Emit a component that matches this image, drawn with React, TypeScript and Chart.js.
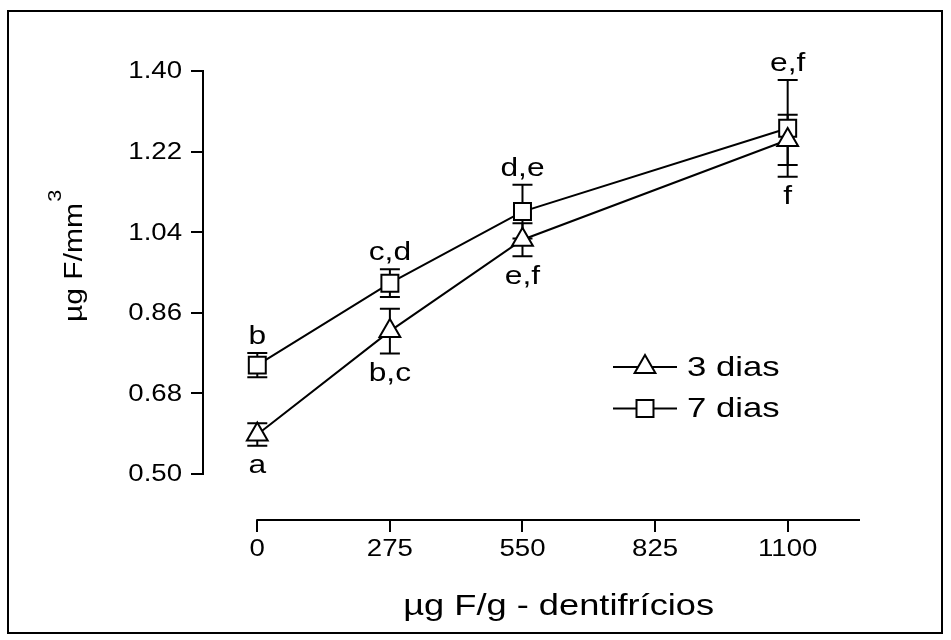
import React, { useEffect, useRef } from 'react';
import { Chart, registerables } from 'chart.js';

Chart.register(...registerables);

// ---------- data ----------
const X_VALUES = [0, 275, 550, 1100];
const DIAS3 = [0.588, 0.819, 1.023, 1.246];
const DIAS3_ERR = [0.025, 0.05, 0.037, 0.056];
const DIAS7 = [0.743, 0.926, 1.086, 1.272];
const DIAS7_ERR = [0.027, 0.031, 0.06, 0.108];
const DIAS3_LETTERS = ['a', 'b,c', 'e,f', 'f'];
const DIAS7_LETTERS = ['b', 'c,d', 'd,e', 'e,f'];
const SERIES_LABELS = ['3 dias', '7 dias'];
const Y_TICKS = [0.5, 0.68, 0.86, 1.04, 1.22, 1.4];
const X_TICKS = [0, 275, 550, 825, 1100];
const X_MAX = 1250;
const X_TITLE = 'µg F/g - dentifrícios';
const Y_TITLE = 'µg F/mm';
const Y_TITLE_SUP = '3';

// ---------- style ----------
const FONT = "'Liberation Sans', Arial, Helvetica, sans-serif";
const R = 12;

function drawText(
  ctx: CanvasRenderingContext2D,
  text: string,
  x: number,
  y: number,
  size: number,
  kx: number,
  align: CanvasTextAlign,
  baseline: CanvasTextBaseline
) {
  ctx.save();
  ctx.translate(x, y);
  ctx.scale(kx, 1);
  ctx.font = `${size}px ${FONT}`;
  ctx.textAlign = align;
  ctx.textBaseline = baseline;
  ctx.fillStyle = '#000';
  ctx.fillText(text, 0, 0);
  ctx.restore();
}

function drawMarker(ctx: CanvasRenderingContext2D, style: string, x: number, y: number, r: number) {
  ctx.beginPath();
  if (style === 'triangle') {
    const a = (2 * Math.PI) / 3;
    ctx.moveTo(x, y - r);
    ctx.lineTo(x + Math.sin(a) * r, y - Math.cos(a) * r);
    ctx.lineTo(x + Math.sin(2 * a) * r, y - Math.cos(2 * a) * r);
    ctx.closePath();
  } else {
    const s = r * Math.SQRT1_2;
    ctx.rect(x - s, y - s, 2 * s, 2 * s);
  }
  ctx.fillStyle = '#fff';
  ctx.fill();
  ctx.stroke();
}

export default function App() {
  const ref = useRef<HTMLCanvasElement>(null);

  useEffect(() => {
    const canvas = ref.current!;
    const series = [
      { vals: DIAS3, errs: DIAS3_ERR, style: 'triangle' },
      { vals: DIAS7, errs: DIAS7_ERR, style: 'rect' },
    ];

    const decor = {
      id: 'decor',
      beforeDatasetsDraw(c: any) {
        const ctx = c.ctx as CanvasRenderingContext2D;
        const xs = c.scales.x;
        const ys = c.scales.y;
        ctx.save();
        ctx.strokeStyle = '#000';
        ctx.lineWidth = 2;
        series.forEach((s) => {
          X_VALUES.forEach((xv, i) => {
            const px = xs.getPixelForValue(xv);
            const top = ys.getPixelForValue(s.vals[i] + s.errs[i]);
            const bot = ys.getPixelForValue(s.vals[i] - s.errs[i]);
            ctx.beginPath();
            ctx.moveTo(px, top);
            ctx.lineTo(px, bot);
            ctx.moveTo(px - 10, top);
            ctx.lineTo(px + 10, top);
            ctx.moveTo(px - 10, bot);
            ctx.lineTo(px + 10, bot);
            ctx.stroke();
          });
        });
        ctx.restore();
      },
      afterDraw(c: any) {
        const ctx = c.ctx as CanvasRenderingContext2D;
        const xs = c.scales.x;
        const ys = c.scales.y;
        const area = c.chartArea;
        ctx.save();
        ctx.strokeStyle = '#000';
        ctx.fillStyle = '#000';
        ctx.lineWidth = 2;

        // outer frame
        ctx.strokeRect(8, 11, 934, 622);

        // axis lines (offset style)
        ctx.beginPath();
        ctx.moveTo(area.left, ys.getPixelForValue(Y_TICKS[0]) + 1);
        ctx.lineTo(area.left, ys.getPixelForValue(Y_TICKS[Y_TICKS.length - 1]) - 1);
        ctx.moveTo(xs.getPixelForValue(X_TICKS[0]) - 1, area.bottom);
        ctx.lineTo(xs.getPixelForValue(X_MAX), area.bottom);
        ctx.stroke();

        // tick labels
        ys.ticks.forEach((t: any) => {
          drawText(ctx, Number(t.value).toFixed(2), area.left - 21, ys.getPixelForValue(t.value) + 1, 23, 1.2, 'right', 'middle');
        });
        xs.ticks.forEach((t: any) => {
          drawText(ctx, String(t.value), xs.getPixelForValue(t.value), area.bottom + 30, 23, 1.2, 'center', 'middle');
        });

        // significance letters
        X_VALUES.forEach((xv, i) => {
          const px = xs.getPixelForValue(xv);
          const topEnd = Math.min(
            ys.getPixelForValue(DIAS3[i] + DIAS3_ERR[i]),
            ys.getPixelForValue(DIAS7[i] + DIAS7_ERR[i])
          );
          const botEnd = Math.max(
            ys.getPixelForValue(DIAS3[i] - DIAS3_ERR[i]),
            ys.getPixelForValue(DIAS7[i] - DIAS7_ERR[i])
          );
          drawText(ctx, DIAS7_LETTERS[i], px, topEnd - 9, 26, 1.22, 'center', 'alphabetic');
          drawText(ctx, DIAS3_LETTERS[i], px, botEnd + 7, 26, 1.22, 'center', 'top');
        });

        // legend
        series.forEach((s, i) => {
          const ly = 367 + i * 41.6;
          ctx.strokeStyle = '#000';
          ctx.lineWidth = 2;
          ctx.beginPath();
          ctx.moveTo(613, ly);
          ctx.lineTo(677, ly);
          ctx.stroke();
          drawMarker(ctx, s.style, 645, ly, R);
          drawText(ctx, SERIES_LABELS[i], 687, ly + 1, 28, 1.24, 'left', 'middle');
        });

        // x title
        drawText(
          ctx,
          X_TITLE,
          (xs.getPixelForValue(X_TICKS[0]) + xs.getPixelForValue(X_MAX)) / 2,
          615,
          29,
          1.25,
          'center',
          'alphabetic'
        );

        // y title (rotated)
        ctx.save();
        ctx.translate(82, 322);
        ctx.rotate(-Math.PI / 2);
        ctx.scale(1.2, 1);
        ctx.font = `25px ${FONT}`;
        ctx.textAlign = 'left';
        ctx.textBaseline = 'alphabetic';
        ctx.fillStyle = '#000';
        ctx.fillText(Y_TITLE, 0, 0);
        const w = ctx.measureText(Y_TITLE).width;
        ctx.font = `18px ${FONT}`;
        ctx.fillText(Y_TITLE_SUP, w + 1, -21);
        ctx.restore();

        ctx.restore();
      },
    };

    const chart = new Chart(canvas, {
      type: 'scatter',
      data: {
        datasets: series.map((s, i) => ({
          label: SERIES_LABELS[i],
          data: X_VALUES.map((x, j) => ({ x, y: s.vals[j] })),
          showLine: true,
          borderColor: '#000',
          borderWidth: 2,
          pointStyle: s.style as any,
          pointRadius: R,
          pointHoverRadius: R,
          pointBackgroundColor: '#fff',
          pointBorderColor: '#000',
          pointBorderWidth: 2,
          clip: false as any,
        })),
      },
      options: {
        responsive: false,
        animation: false,
        events: [],
        layout: { padding: { top: 71, left: 0, right: 91, bottom: 0 } },
        plugins: {
          legend: { display: false },
          tooltip: { enabled: false },
          title: { display: false },
        },
        scales: {
          x: {
            type: 'linear',
            min: -112.6,
            max: X_MAX,
            afterBuildTicks: (scale: any) => {
              scale.ticks = X_TICKS.map((v) => ({ value: v }));
            },
            afterFit: (scale: any) => {
              scale.height = 120;
            },
            border: { display: false },
            grid: {
              drawOnChartArea: false,
              drawTicks: true,
              tickLength: 12,
              lineWidth: 2,
              color: '#000',
            },
            ticks: { display: false, autoSkip: false },
          },
          y: {
            type: 'linear',
            min: 0.397,
            max: 1.4,
            afterBuildTicks: (scale: any) => {
              scale.ticks = Y_TICKS.map((v) => ({ value: v }));
            },
            afterFit: (scale: any) => {
              scale.width = 203;
            },
            border: { display: false },
            grid: {
              drawOnChartArea: false,
              drawTicks: true,
              tickLength: 12,
              lineWidth: 2,
              color: '#000',
            },
            ticks: { display: false, autoSkip: false },
          },
        },
      },
      plugins: [decor],
    });

    return () => chart.destroy();
  }, []);

  return (
    <div style={{ position: 'fixed', left: 0, top: 0, width: 951, height: 640, background: '#fff' }}>
      <canvas ref={ref} width={951} height={640} style={{ display: 'block', width: 951, height: 640 }} />
    </div>
  );
}
